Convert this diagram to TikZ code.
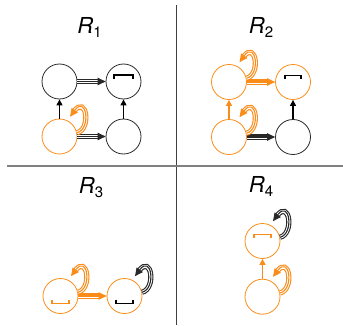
\documentclass[tikz,border=0pt]{standalone}
\usepackage{fontspec}
\setmainfont{TeX Gyre Heros}
\usetikzlibrary{arrows.meta}
\definecolor{orng}{RGB}{250,140,25}
\definecolor{drk}{RGB}{40,40,40}
\tikzset{
 st/.style={circle, draw=#1, line width=0.8pt, minimum size=35pt, inner sep=0pt},
 triple/.style={draw=#1, line width=1.1pt, -{Triangle[length=8pt,width=7.5pt]},
   preaction={draw=#1, line width=5.2pt, shorten >=6.5pt, -},
   preaction={draw=white, line width=3.0pt, shorten >=6.5pt, -}},
 single/.style={draw=#1, line width=1.3pt, -{Triangle[length=6pt,width=6pt]}},
 br/.style={line width=1.6pt, line cap=butt, line join=miter},
 vsep/.style={draw=black!75, line width=1pt},
 hsep/.style={draw=black!50, line width=1.7pt},
 ttl/.style={anchor=base, inner sep=0pt}
}
\newcommand{\ttltext}[1]{{\fontsize{22}{24}\selectfont\itshape R}\raisebox{-4.5pt}{\fontsize{15}{16}\selectfont #1}}
\newcommand{\myloop}[2]{\draw[triple=#2] (#1.12) .. controls +(14.5,3.5) and +(16.5,22.5) .. ([shift={(10.5,19.8)}]#1.center);}
\newcommand{\topbr}[3]{\draw[br,draw=#2] ([shift={(-#3,3)}]#1.center) -- ++(0,3.6) -- ++(2*#3,0) -- ++(0,-3.6);}
\newcommand{\botbr}[3]{\draw[br,draw=#2] ([shift={(-#3,-3.5)}]#1.center) -- ++(0,-3.8) -- ++(2*#3,0) -- ++(0,3.8);}
\begin{document}
\begin{tikzpicture}[x=1pt,y=1pt]
\useasboundingbox (0,0) rectangle (343,325);
% separators
\coordinate (vt) at (176,320);
\coordinate (vb) at (176,0);
\coordinate (hl) at (7,159);
\coordinate (hr) at (343,159);
\draw[vsep] (vt) -- (vb);
\draw[hsep] (hl) -- (hr);
% titles
\node[ttl] (t1) at (89.5,292) {\ttltext{1}};
\node[ttl] (t2) at (261,292) {\ttltext{2}};
\node[ttl] (t3) at (91,132) {\ttltext{3}};
\node[ttl] (t4) at (261,133) {\ttltext{4}};
% R1
\node[st=drk] (a1) at (59.5,243.5) {};
\node[st=drk] (b1) at (123.5,243.5) {};
\node[st=orng] (c1) at (59.5,188.5) {};
\node[st=drk] (d1) at (123.5,188.5) {};
\draw[triple=drk] (a1) -- (b1);
\draw[triple=drk] (c1) -- (d1);
\draw[single=black] (c1) -- (a1);
\draw[single=black] (d1) -- (b1);
\myloop{c1}{orng}
\topbr{b1}{black}{9.5}
% R2
\node[st=orng] (a2) at (229,243) {};
\node[st=orng] (b2) at (293,243) {};
\node[st=orng] (c2) at (229,188) {};
\node[st=drk] (d2) at (293,188) {};
\draw[triple=orng] (a2) -- (b2);
\draw[triple=drk] (c2) -- (d2);
\draw[single=orng] (c2) -- (a2);
\draw[single=black] (d2) -- (b2);
\myloop{a2}{orng}
\myloop{c2}{orng}
\topbr{b2}{black}{8}
% R3
\node[st=orng] (a3) at (60.5,29) {};
\node[st=orng] (b3) at (124.5,29) {};
\draw[triple=orng] (a3) -- (b3);
\myloop{a3}{orng}
\myloop{b3}{drk}
\botbr{a3}{orng}{8.5}
\botbr{b3}{black}{8.5}
% R4
\node[st=orng] (a4) at (262.5,84) {};
\node[st=orng] (b4) at (262.5,28.3) {};
\draw[single=orng] (b4) -- (a4);
\myloop{a4}{drk}
\myloop{b4}{orng}
\topbr{a4}{orng}{8.5}
\end{tikzpicture}
\end{document}
